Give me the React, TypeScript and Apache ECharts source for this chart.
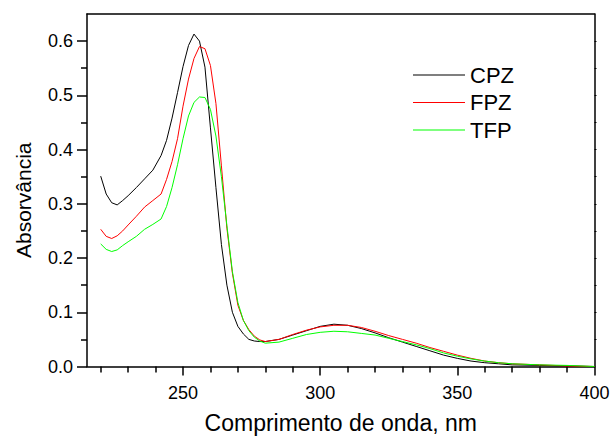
import React, { useEffect, useRef } from "react";
import * as echarts from "echarts";

const xs = [220, 222, 224, 226, 228, 230, 233, 236, 239, 242, 244, 246, 248, 250, 252, 254, 256, 258, 260, 262, 264, 266, 268, 270, 272, 274, 276, 278, 280, 285, 290, 295, 300, 305, 310, 315, 320, 325, 330, 335, 340, 345, 350, 355, 360, 365, 370, 380, 390, 400];

const cpz = [0.351, 0.318, 0.302, 0.298, 0.306, 0.315, 0.330, 0.346, 0.362, 0.389, 0.417, 0.458, 0.505, 0.553, 0.592, 0.613, 0.600, 0.552, 0.440, 0.330, 0.225, 0.150, 0.100, 0.074, 0.060, 0.050, 0.047, 0.046, 0.046, 0.050, 0.058, 0.066, 0.074, 0.078, 0.076, 0.070, 0.062, 0.053, 0.045, 0.037, 0.029, 0.021, 0.015, 0.010, 0.007, 0.005, 0.003, 0.002, 0.001, 0.000];

const fpz = [0.253, 0.240, 0.236, 0.241, 0.250, 0.261, 0.277, 0.294, 0.306, 0.318, 0.345, 0.378, 0.420, 0.480, 0.530, 0.568, 0.590, 0.586, 0.555, 0.485, 0.370, 0.255, 0.172, 0.113, 0.085, 0.068, 0.056, 0.049, 0.046, 0.050, 0.059, 0.067, 0.073, 0.076, 0.076, 0.072, 0.065, 0.057, 0.050, 0.043, 0.035, 0.028, 0.021, 0.015, 0.010, 0.007, 0.005, 0.003, 0.001, 0.000];

const tfp = [0.226, 0.216, 0.212, 0.215, 0.223, 0.230, 0.240, 0.253, 0.262, 0.272, 0.295, 0.330, 0.372, 0.420, 0.462, 0.487, 0.497, 0.496, 0.474, 0.425, 0.350, 0.260, 0.175, 0.118, 0.085, 0.066, 0.054, 0.047, 0.043, 0.045, 0.052, 0.059, 0.063, 0.065, 0.064, 0.061, 0.058, 0.052, 0.046, 0.040, 0.033, 0.025, 0.019, 0.014, 0.010, 0.007, 0.005, 0.003, 0.002, 0.000];

const xMajor = [250, 300, 350, 400];
const xMinor = [220, 230, 240, 260, 270, 280, 290, 310, 320, 330, 340, 360, 370, 380, 390];
const yMajor = [0, 0.1, 0.2, 0.3, 0.4, 0.5, 0.6];
const yMinor = [0.05, 0.15, 0.25, 0.35, 0.45, 0.55];
const yRight = [0.05, 0.1, 0.15, 0.2, 0.25, 0.3, 0.35, 0.4, 0.45, 0.5, 0.55, 0.6];

const FONT = "Liberation Sans, Arial, sans-serif";
const axisLineStyle = { color: "#000", width: 1.5 };

export default function App() {
  const ref = useRef<HTMLDivElement>(null);
  useEffect(() => {
    if (!ref.current) return;
    const chart = echarts.init(ref.current, null, { renderer: "svg" });
    const mk = (arr: number[]) => xs.map((x, i) => [x, arr[i]]);
    const xBase = { type: "value", min: 215, max: 400, splitLine: { show: false } };
    const yBase = { type: "value", min: 0, max: 0.65, splitLine: { show: false } };
    chart.setOption({
      animation: false,
      backgroundColor: "#fff",
      textStyle: { fontFamily: FONT },
      grid: { left: 87, right: 15.5, top: 14, bottom: 69.5, containLabel: false, outerBoundsMode: "none" },
      legend: {
        orient: "vertical",
        left: 413,
        top: 64,
        padding: 0,
        icon: "rect",
        itemWidth: 52,
        itemHeight: 1,
        itemGap: 5.5,
        textStyle: { fontSize: 22, color: "#000", fontFamily: FONT, lineHeight: 22 },
        data: ["CPZ", "FPZ", "TFP"],
      },
      xAxis: [
        {
          ...xBase,
          position: "bottom",
          axisLine: { onZero: false, lineStyle: axisLineStyle },
          axisTick: { customValues: xMajor, length: 9, lineStyle: axisLineStyle },
          axisLabel: {
            customValues: xMajor,
            margin: 17,
            fontSize: 18,
            color: "#000",
            fontFamily: FONT,
          },
          name: "Comprimento de onda, nm",
          nameLocation: "middle",
          nameGap: 45,
          nameTextStyle: { fontSize: 23, color: "#000", fontFamily: FONT },
        },
        {
          ...xBase,
          position: "bottom",
          axisLine: { show: false, onZero: false },
          axisTick: { customValues: xMinor, length: 6, lineStyle: axisLineStyle },
          axisLabel: { show: false },
        },
        {
          ...xBase,
          position: "top",
          axisLine: { onZero: false, lineStyle: axisLineStyle },
          axisTick: { show: false },
          axisLabel: { show: false },
        },
      ],
      yAxis: [
        {
          ...yBase,
          position: "left",
          axisLine: { show: true, onZero: false, lineStyle: axisLineStyle },
          axisTick: { show: true, customValues: yMajor, length: 10, lineStyle: axisLineStyle },
          axisLabel: {
            customValues: yMajor,
            margin: 14,
            fontSize: 18,
            color: "#000",
            fontFamily: FONT,
            formatter: (v: number) => v.toFixed(1),
          },
          name: "Absorvância",
          nameLocation: "middle",
          nameGap: 53,
          nameTextStyle: { fontSize: 21, color: "#000", fontFamily: FONT, padding: [0, 20, 0, 0] },
        },
        {
          ...yBase,
          position: "left",
          axisLine: { show: false, onZero: false },
          axisTick: { show: true, customValues: yMinor, length: 6, lineStyle: axisLineStyle },
          axisLabel: { show: false },
        },
        {
          ...yBase,
          position: "right",
          axisLine: { show: true, onZero: false, lineStyle: axisLineStyle },
          axisTick: { show: true, customValues: yRight, length: 2, lineStyle: { color: "#000", width: 1 } },
          axisLabel: { show: false },
        },
      ],
      series: [
        { name: "CPZ", type: "line", data: mk(cpz), symbol: "none", lineStyle: { color: "#000000", width: 1 }, itemStyle: { color: "#000000" } },
        { name: "FPZ", type: "line", data: mk(fpz), symbol: "none", lineStyle: { color: "#ff0000", width: 1 }, itemStyle: { color: "#ff0000" } },
        { name: "TFP", type: "line", data: mk(tfp), symbol: "none", lineStyle: { color: "#00ff00", width: 1 }, itemStyle: { color: "#00ff00" } },
      ],
    });
    return () => chart.dispose();
  }, []);
  return <div ref={ref} style={{ position: "fixed", left: 0, top: 0, width: 610, height: 436 }} />;
}
